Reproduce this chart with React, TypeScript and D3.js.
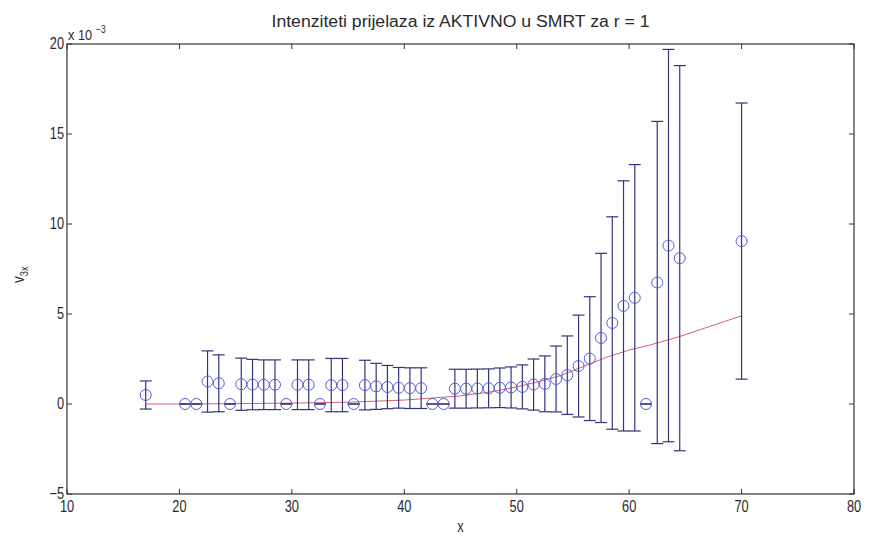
import React from "react";
import * as d3 from "d3";

// Data (values in units of 1e-3)
const ages = [17, 20.5, 21.5, 22.5, 23.5, 24.5, 25.5, 26.5, 27.5, 28.5, 29.5, 30.5, 31.5, 32.5, 33.5, 34.5, 35.5, 36.5, 37.5, 38.5, 39.5, 40.5, 41.5, 42.5, 43.5, 44.5, 45.5, 46.5, 47.5, 48.5, 49.5, 50.5, 51.5, 52.5, 53.5, 54.5, 55.5, 56.5, 57.5, 58.5, 59.5, 60.5, 61.5, 62.5, 63.5, 64.5, 70];
const rates = [0.5, 0, 0, 1.25, 1.15, 0, 1.1, 1.08, 1.07, 1.07, 0, 1.07, 1.07, 0, 1.05, 1.05, 0, 1.05, 0.98, 0.94, 0.9, 0.88, 0.88, 0, 0, 0.85, 0.85, 0.86, 0.87, 0.9, 0.92, 0.95, 1.08, 1.12, 1.39, 1.6, 2.11, 2.52, 3.67, 4.5, 5.45, 5.9, 0, 6.75, 8.8, 8.1, 9.05];
const errors = [0.78, 0, 0, 1.7, 1.58, 0, 1.45, 1.4, 1.38, 1.38, 0, 1.38, 1.38, 0, 1.48, 1.48, 0, 1.38, 1.28, 1.2, 1.13, 1.13, 1.13, 0, 0, 1.08, 1.08, 1.08, 1.08, 1.1, 1.14, 1.22, 1.42, 1.55, 1.83, 2.18, 2.83, 3.44, 4.7, 5.9, 6.95, 7.4, 0, 8.95, 10.9, 10.7, 7.67];
const fitAges = [17, 20, 25, 30, 35, 40, 45, 48, 50, 52, 54, 56, 58, 60, 62, 64.5, 70];
const fitRates = [0, 0, 0.02, 0.05, 0.1, 0.22, 0.45, 0.7, 0.95, 1.25, 1.6, 2.1, 2.6, 3.0, 3.3, 3.75, 4.9];
const xTicks = [10, 20, 30, 40, 50, 60, 70, 80];
const yTicks = [-5, 0, 5, 10, 15, 20];

const W = 871, H = 538;
const L = 67, R = 854, T = 44, B = 494;

export default function App() {
  const x = d3.scaleLinear().domain([10, 80]).range([L, R]);
  const y = d3.scaleLinear().domain([-5, 20]).range([B, T]);
  const line = d3.line<number>().x((_, i) => x(fitAges[i])).y((d) => y(d));
  const barColor = "#34347a";
  const circColor = "#5a5ad6";
  const axisColor = "#333";
  const textColor = "#2a2a2a";
  const font = "'Liberation Sans', Arial, sans-serif";
  const cap = 6;
  const tl = 5;
  return (
    <div style={{ position: "fixed", left: 0, top: 0 }}>
      <svg width={W} height={H} style={{ display: "block", background: "#fff" }}>
        <rect x={0} y={0} width={W} height={H} fill="#fff" />
        {/* fit line */}
        <path d={line(fitRates) || ""} fill="none" stroke="#d0607e" strokeWidth={1} />
        {/* error bars */}
        {ages.map((a, i) => {
          const cx = x(a);
          const top = y(rates[i] + errors[i]);
          const bot = y(rates[i] - errors[i]);
          return (
            <g key={"e" + i} stroke={barColor} strokeWidth={1.2}>
              <line x1={cx} x2={cx} y1={top} y2={bot} />
              <line x1={cx - cap} x2={cx + cap} y1={top} y2={top} />
              <line x1={cx - cap} x2={cx + cap} y1={bot} y2={bot} />
            </g>
          );
        })}
        {/* markers */}
        {ages.map((a, i) => (
          <circle key={"c" + i} cx={x(a)} cy={y(rates[i])} r={5.5} fill="none" stroke={circColor} strokeWidth={1} />
        ))}
        {/* frame */}
        <rect x={L} y={T} width={R - L} height={B - T} fill="none" stroke={axisColor} strokeWidth={1.2} />
        {xTicks.map((t) => (
          <g key={"xt" + t} stroke={axisColor}>
            <line x1={x(t)} x2={x(t)} y1={B} y2={B - tl} />
            <line x1={x(t)} x2={x(t)} y1={T} y2={T + tl} />
          </g>
        ))}
        {yTicks.map((t) => (
          <g key={"yt" + t} stroke={axisColor}>
            <line x1={L} x2={L + tl} y1={y(t)} y2={y(t)} />
            <line x1={R} x2={R - tl} y1={y(t)} y2={y(t)} />
          </g>
        ))}
        {xTicks.map((t) => (
          <text key={"xl" + t} transform={`translate(${x(t)},${B + 18}) scale(0.8,1)`} textAnchor="middle" fontFamily={font} fontSize={16} fill={textColor}>
            {t}
          </text>
        ))}
        {yTicks.map((t) => (
          <text key={"yl" + t} transform={`translate(${L - 3},${y(t) + 5}) scale(0.8,1)`} textAnchor="end" fontFamily={font} fontSize={16} fill={textColor}>
            {t < 0 ? "\u2212" + Math.abs(t) : t}
          </text>
        ))}
        {/* exponent */}
        <text transform={`translate(${L + 1},${T - 4}) scale(0.85,1)`} fontFamily={font} fontSize={15} fill={textColor}>
          x 10
        </text>
        <text transform={`translate(${L + 29},${T - 11}) scale(0.85,1)`} fontFamily={font} fontSize={10} fill={textColor}>
          {"\u22123"}
        </text>
        {/* title */}
        <text x={(L + R) / 2} y={27} textAnchor="middle" fontFamily={font} fontSize={16} fill={textColor} textLength={378} lengthAdjust="spacingAndGlyphs">
          Intenziteti prijelaza iz AKTIVNO u SMRT za r = 1
        </text>
        {/* x label */}
        <text transform={`translate(${(L + R) / 2},${B + 38}) scale(0.8,1)`} textAnchor="middle" fontFamily={font} fontSize={16} fill={textColor}>
          x
        </text>
        {/* y label */}
        <text transform={`translate(24,${(T + B) / 2 + 14}) rotate(-90) scale(0.85,1)`} fontFamily={font} fontSize={16} fill={textColor}>
          v<tspan fontSize={11} dy={4}>3x</tspan>
        </text>
      </svg>
    </div>
  );
}
